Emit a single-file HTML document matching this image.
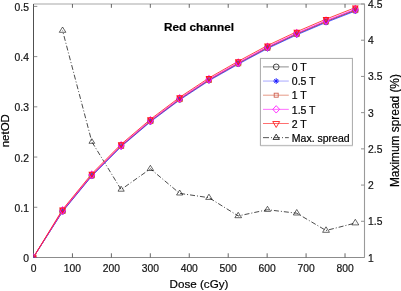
<!DOCTYPE html><html><head><meta charset="utf-8"><style>html,body{margin:0;padding:0;background:#fff;overflow:hidden;}svg{display:block;will-change:transform;}text{font-family:"Liberation Sans",sans-serif;stroke:#000;stroke-width:0.2px;}</style></head><body>
<svg width="401" height="291" viewBox="0 0 401 291">
<rect x="0" y="0" width="401" height="291" fill="#fff"/>
<g>
<line x1="33.5" y1="4.0" x2="365.0" y2="4.0" stroke="#c4c4c4" stroke-width="1.6"/>
<line x1="33.5" y1="257.5" x2="364.5" y2="257.5" stroke="#8c8c8c" stroke-width="1.2"/>
<line x1="364.5" y1="4.0" x2="364.5" y2="257.5" stroke="#9a9a9a" stroke-width="1.1"/>
<line x1="33.5" y1="4.0" x2="33.5" y2="257.5" stroke="#505050" stroke-width="1.0"/>
<line x1="33.50" y1="257.5" x2="33.50" y2="253.3" stroke="#555" stroke-width="0.9"/>
<line x1="33.50" y1="4.0" x2="33.50" y2="7.8" stroke="#555" stroke-width="0.9"/>
<text x="33.50" y="271.80" font-size="10.3" text-anchor="middle" fill="#1a1a1a">0</text>
<line x1="72.44" y1="257.5" x2="72.44" y2="253.3" stroke="#555" stroke-width="0.9"/>
<line x1="72.44" y1="4.0" x2="72.44" y2="7.8" stroke="#555" stroke-width="0.9"/>
<text x="72.44" y="271.80" font-size="10.3" text-anchor="middle" fill="#1a1a1a">100</text>
<line x1="111.38" y1="257.5" x2="111.38" y2="253.3" stroke="#555" stroke-width="0.9"/>
<line x1="111.38" y1="4.0" x2="111.38" y2="7.8" stroke="#555" stroke-width="0.9"/>
<text x="111.38" y="271.80" font-size="10.3" text-anchor="middle" fill="#1a1a1a">200</text>
<line x1="150.32" y1="257.5" x2="150.32" y2="253.3" stroke="#555" stroke-width="0.9"/>
<line x1="150.32" y1="4.0" x2="150.32" y2="7.8" stroke="#555" stroke-width="0.9"/>
<text x="150.32" y="271.80" font-size="10.3" text-anchor="middle" fill="#1a1a1a">300</text>
<line x1="189.26" y1="257.5" x2="189.26" y2="253.3" stroke="#555" stroke-width="0.9"/>
<line x1="189.26" y1="4.0" x2="189.26" y2="7.8" stroke="#555" stroke-width="0.9"/>
<text x="189.26" y="271.80" font-size="10.3" text-anchor="middle" fill="#1a1a1a">400</text>
<line x1="228.21" y1="257.5" x2="228.21" y2="253.3" stroke="#555" stroke-width="0.9"/>
<line x1="228.21" y1="4.0" x2="228.21" y2="7.8" stroke="#555" stroke-width="0.9"/>
<text x="228.21" y="271.80" font-size="10.3" text-anchor="middle" fill="#1a1a1a">500</text>
<line x1="267.15" y1="257.5" x2="267.15" y2="253.3" stroke="#555" stroke-width="0.9"/>
<line x1="267.15" y1="4.0" x2="267.15" y2="7.8" stroke="#555" stroke-width="0.9"/>
<text x="267.15" y="271.80" font-size="10.3" text-anchor="middle" fill="#1a1a1a">600</text>
<line x1="306.09" y1="257.5" x2="306.09" y2="253.3" stroke="#555" stroke-width="0.9"/>
<line x1="306.09" y1="4.0" x2="306.09" y2="7.8" stroke="#555" stroke-width="0.9"/>
<text x="306.09" y="271.80" font-size="10.3" text-anchor="middle" fill="#1a1a1a">700</text>
<line x1="345.03" y1="257.5" x2="345.03" y2="253.3" stroke="#555" stroke-width="0.9"/>
<line x1="345.03" y1="4.0" x2="345.03" y2="7.8" stroke="#555" stroke-width="0.9"/>
<text x="345.03" y="271.80" font-size="10.3" text-anchor="middle" fill="#1a1a1a">800</text>
<line x1="33.5" y1="257.50" x2="37.3" y2="257.50" stroke="#707070" stroke-width="0.8"/>
<text x="28.90" y="262.10" font-size="10.3" text-anchor="end" fill="#1a1a1a">0</text>
<line x1="33.5" y1="207.28" x2="37.3" y2="207.28" stroke="#707070" stroke-width="0.8"/>
<text x="28.90" y="211.88" font-size="10.3" text-anchor="end" fill="#1a1a1a">0.1</text>
<line x1="33.5" y1="157.06" x2="37.3" y2="157.06" stroke="#707070" stroke-width="0.8"/>
<text x="28.90" y="161.66" font-size="10.3" text-anchor="end" fill="#1a1a1a">0.2</text>
<line x1="33.5" y1="106.84" x2="37.3" y2="106.84" stroke="#707070" stroke-width="0.8"/>
<text x="28.90" y="111.44" font-size="10.3" text-anchor="end" fill="#1a1a1a">0.3</text>
<line x1="33.5" y1="56.62" x2="37.3" y2="56.62" stroke="#707070" stroke-width="0.8"/>
<text x="28.90" y="61.22" font-size="10.3" text-anchor="end" fill="#1a1a1a">0.4</text>
<line x1="33.5" y1="6.40" x2="37.3" y2="6.40" stroke="#707070" stroke-width="0.8"/>
<text x="28.90" y="11.00" font-size="10.3" text-anchor="end" fill="#1a1a1a">0.5</text>
<line x1="364.5" y1="257.50" x2="361.0" y2="257.50" stroke="#909090" stroke-width="1"/>
<text x="368.10" y="261.50" font-size="10.3" text-anchor="start" fill="#1a1a1a">1</text>
<line x1="364.5" y1="221.29" x2="361.0" y2="221.29" stroke="#909090" stroke-width="1"/>
<text x="368.10" y="225.29" font-size="10.3" text-anchor="start" fill="#1a1a1a">1.5</text>
<line x1="364.5" y1="185.07" x2="361.0" y2="185.07" stroke="#909090" stroke-width="1"/>
<text x="368.10" y="189.07" font-size="10.3" text-anchor="start" fill="#1a1a1a">2</text>
<line x1="364.5" y1="148.86" x2="361.0" y2="148.86" stroke="#909090" stroke-width="1"/>
<text x="368.10" y="152.86" font-size="10.3" text-anchor="start" fill="#1a1a1a">2.5</text>
<line x1="364.5" y1="112.64" x2="361.0" y2="112.64" stroke="#909090" stroke-width="1"/>
<text x="368.10" y="116.64" font-size="10.3" text-anchor="start" fill="#1a1a1a">3</text>
<line x1="364.5" y1="76.43" x2="361.0" y2="76.43" stroke="#909090" stroke-width="1"/>
<text x="368.10" y="80.43" font-size="10.3" text-anchor="start" fill="#1a1a1a">3.5</text>
<line x1="364.5" y1="40.21" x2="361.0" y2="40.21" stroke="#909090" stroke-width="1"/>
<text x="368.10" y="44.21" font-size="10.3" text-anchor="start" fill="#1a1a1a">4</text>
<line x1="364.5" y1="4.00" x2="361.0" y2="4.00" stroke="#909090" stroke-width="1"/>
<text x="368.10" y="8.00" font-size="10.3" text-anchor="start" fill="#1a1a1a">4.5</text>
<text x="199.0" y="287.8" font-size="11.65" text-anchor="middle" fill="#000">Dose (cGy)</text>
<text transform="translate(9.1,130.7) rotate(-90)" x="0" y="0" font-size="11.5" text-anchor="middle" fill="#000">netOD</text>
<text transform="translate(398.6,130.6) rotate(-90)" x="0" y="0" font-size="11.9" text-anchor="middle" fill="#000">Maximum spread (%)</text>
<text x="199.0" y="30.8" font-size="11.75" font-weight="bold" text-anchor="middle" fill="#000">Red channel</text>
<polyline fill="none" stroke="#2a2a2a" stroke-width="0.85" stroke-dasharray="5 2 1 2" stroke-dashoffset="4.35" points="62.57,30.57 91.84,141.80 121.12,189.57 150.39,168.80 179.66,193.37 208.94,197.70 238.21,215.93 267.48,209.73 296.75,213.20 326.02,230.50 355.30,223.07"/>
<polygon points="62.57,27.00 65.87,32.30 59.27,32.30" fill="none" stroke="#000" stroke-width="0.6" stroke-linejoin="miter"/>
<polygon points="91.84,138.70 94.73,143.30 88.96,143.30" fill="none" stroke="#000" stroke-width="0.6" stroke-linejoin="miter"/>
<polygon points="121.12,186.20 124.24,191.20 118.00,191.20" fill="none" stroke="#000" stroke-width="0.6" stroke-linejoin="miter"/>
<polygon points="150.39,165.30 153.63,170.50 147.15,170.50" fill="none" stroke="#000" stroke-width="0.6" stroke-linejoin="miter"/>
<polygon points="179.66,190.00 182.78,195.00 176.54,195.00" fill="none" stroke="#000" stroke-width="0.6" stroke-linejoin="miter"/>
<polygon points="208.94,194.20 212.18,199.40 205.69,199.40" fill="none" stroke="#000" stroke-width="0.6" stroke-linejoin="miter"/>
<polygon points="238.21,212.30 241.57,217.70 234.85,217.70" fill="none" stroke="#000" stroke-width="0.6" stroke-linejoin="miter"/>
<polygon points="267.48,206.30 270.66,211.40 264.30,211.40" fill="none" stroke="#000" stroke-width="0.6" stroke-linejoin="miter"/>
<polygon points="296.75,209.50 300.17,215.00 293.33,215.00" fill="none" stroke="#000" stroke-width="0.6" stroke-linejoin="miter"/>
<polygon points="326.02,226.80 329.44,232.30 322.60,232.30" fill="none" stroke="#000" stroke-width="0.6" stroke-linejoin="miter"/>
<polygon points="355.30,219.30 358.78,224.90 351.82,224.90" fill="none" stroke="#000" stroke-width="0.6" stroke-linejoin="miter"/>
<clipPath id="ax"><rect x="33.5" y="4.0" width="331.0" height="253.5"/></clipPath><g clip-path="url(#ax)">
<polyline fill="none" stroke="#303030" stroke-width="0.8" stroke-linejoin="round" points="33.30,257.50 62.57,211.13 91.84,175.47 121.12,146.12 150.39,121.27 179.66,99.32 208.94,80.06 238.21,63.51 267.48,47.81 296.75,34.11 326.02,21.65 355.30,10.20"/>
<polyline fill="none" stroke="#3030ff" stroke-width="0.8" stroke-linejoin="round" points="33.30,257.50 62.57,211.64 91.84,176.01 121.12,146.69 150.39,121.87 179.66,99.94 208.94,80.72 238.21,64.19 267.48,48.52 296.75,34.85 326.02,22.42 355.30,11.00"/>
<polyline fill="none" stroke="#e06040" stroke-width="0.8" stroke-linejoin="round" points="33.30,257.50 62.57,210.87 91.84,175.21 121.12,145.84 150.39,120.97 179.66,99.00 208.94,79.74 238.21,63.17 267.48,47.45 296.75,33.73 326.02,21.27 355.30,9.80"/>
<polyline fill="none" stroke="#ff10ff" stroke-width="0.8" stroke-linejoin="round" points="33.30,257.50 62.57,210.49 91.84,174.80 121.12,145.41 150.39,120.52 179.66,98.53 208.94,79.25 238.21,62.66 267.48,46.92 296.75,33.18 326.02,20.69 355.30,9.20"/>
<polyline fill="none" stroke="#ff1818" stroke-width="0.8" stroke-linejoin="round" points="33.30,257.50 62.57,209.47 91.84,173.73 121.12,144.28 150.39,119.33 179.66,97.28 208.94,77.94 238.21,61.29 267.48,45.49 296.75,31.69 326.02,19.15 355.30,7.60"/>
<circle cx="33.30" cy="257.50" r="2.6" fill="none" stroke="#303030" stroke-width="1.05"/>
<circle cx="62.57" cy="211.13" r="2.6" fill="none" stroke="#303030" stroke-width="1.05"/>
<circle cx="91.84" cy="175.47" r="2.6" fill="none" stroke="#303030" stroke-width="1.05"/>
<circle cx="121.12" cy="146.12" r="2.6" fill="none" stroke="#303030" stroke-width="1.05"/>
<circle cx="150.39" cy="121.27" r="2.6" fill="none" stroke="#303030" stroke-width="1.05"/>
<circle cx="179.66" cy="99.32" r="2.6" fill="none" stroke="#303030" stroke-width="1.05"/>
<circle cx="208.94" cy="80.06" r="2.6" fill="none" stroke="#303030" stroke-width="1.05"/>
<circle cx="238.21" cy="63.51" r="2.6" fill="none" stroke="#303030" stroke-width="1.05"/>
<circle cx="267.48" cy="47.81" r="2.6" fill="none" stroke="#303030" stroke-width="1.05"/>
<circle cx="296.75" cy="34.11" r="2.6" fill="none" stroke="#303030" stroke-width="1.05"/>
<circle cx="326.02" cy="21.65" r="2.6" fill="none" stroke="#303030" stroke-width="1.05"/>
<circle cx="355.30" cy="10.20" r="2.6" fill="none" stroke="#303030" stroke-width="1.05"/>
<path d="M30.40,257.50H36.20M33.30,254.60V260.40M31.27,255.47L35.33,259.53M31.27,259.53L35.33,255.47" stroke="#3030ff" stroke-width="1.05" fill="none"/>
<path d="M59.67,211.64H65.47M62.57,208.74V214.54M60.54,209.61L64.60,213.67M60.54,213.67L64.60,209.61" stroke="#3030ff" stroke-width="1.05" fill="none"/>
<path d="M88.94,176.01H94.75M91.84,173.11V178.91M89.81,173.98L93.88,178.04M89.81,178.04L93.88,173.98" stroke="#3030ff" stroke-width="1.05" fill="none"/>
<path d="M118.22,146.69H124.02M121.12,143.79V149.59M119.09,144.66L123.15,148.72M119.09,148.72L123.15,144.66" stroke="#3030ff" stroke-width="1.05" fill="none"/>
<path d="M147.49,121.87H153.29M150.39,118.97V124.77M148.36,119.84L152.42,123.90M148.36,123.90L152.42,119.84" stroke="#3030ff" stroke-width="1.05" fill="none"/>
<path d="M176.76,99.94H182.56M179.66,97.04V102.84M177.63,97.91L181.69,101.97M177.63,101.97L181.69,97.91" stroke="#3030ff" stroke-width="1.05" fill="none"/>
<path d="M206.03,80.72H211.84M208.94,77.82V83.62M206.91,78.69L210.97,82.75M206.91,82.75L210.97,78.69" stroke="#3030ff" stroke-width="1.05" fill="none"/>
<path d="M235.31,64.19H241.11M238.21,61.29V67.09M236.18,62.16L240.24,66.22M236.18,66.22L240.24,62.16" stroke="#3030ff" stroke-width="1.05" fill="none"/>
<path d="M264.58,48.52H270.38M267.48,45.62V51.42M265.45,46.49L269.51,50.55M265.45,50.55L269.51,46.49" stroke="#3030ff" stroke-width="1.05" fill="none"/>
<path d="M293.85,34.85H299.65M296.75,31.95V37.75M294.72,32.82L298.78,36.88M294.72,36.88L298.78,32.82" stroke="#3030ff" stroke-width="1.05" fill="none"/>
<path d="M323.12,22.42H328.92M326.02,19.52V25.32M324.00,20.39L328.05,24.45M324.00,24.45L328.05,20.39" stroke="#3030ff" stroke-width="1.05" fill="none"/>
<path d="M352.40,11.00H358.20M355.30,8.10V13.90M353.27,8.97L357.33,13.03M353.27,13.03L357.33,8.97" stroke="#3030ff" stroke-width="1.05" fill="none"/>
<rect x="30.80" y="255.00" width="5.00" height="5.00" fill="none" stroke="#e06040" stroke-width="1.05"/>
<rect x="60.07" y="208.37" width="5.00" height="5.00" fill="none" stroke="#e06040" stroke-width="1.05"/>
<rect x="89.34" y="172.71" width="5.00" height="5.00" fill="none" stroke="#e06040" stroke-width="1.05"/>
<rect x="118.62" y="143.34" width="5.00" height="5.00" fill="none" stroke="#e06040" stroke-width="1.05"/>
<rect x="147.89" y="118.47" width="5.00" height="5.00" fill="none" stroke="#e06040" stroke-width="1.05"/>
<rect x="177.16" y="96.50" width="5.00" height="5.00" fill="none" stroke="#e06040" stroke-width="1.05"/>
<rect x="206.44" y="77.24" width="5.00" height="5.00" fill="none" stroke="#e06040" stroke-width="1.05"/>
<rect x="235.71" y="60.67" width="5.00" height="5.00" fill="none" stroke="#e06040" stroke-width="1.05"/>
<rect x="264.98" y="44.95" width="5.00" height="5.00" fill="none" stroke="#e06040" stroke-width="1.05"/>
<rect x="294.25" y="31.23" width="5.00" height="5.00" fill="none" stroke="#e06040" stroke-width="1.05"/>
<rect x="323.52" y="18.77" width="5.00" height="5.00" fill="none" stroke="#e06040" stroke-width="1.05"/>
<rect x="352.80" y="7.30" width="5.00" height="5.00" fill="none" stroke="#e06040" stroke-width="1.05"/>
<polygon points="33.30,253.90 36.00,257.50 33.30,261.10 30.60,257.50" fill="none" stroke="#ff10ff" stroke-width="1.05"/>
<polygon points="62.57,206.89 65.27,210.49 62.57,214.09 59.87,210.49" fill="none" stroke="#ff10ff" stroke-width="1.05"/>
<polygon points="91.84,171.20 94.55,174.80 91.84,178.40 89.14,174.80" fill="none" stroke="#ff10ff" stroke-width="1.05"/>
<polygon points="121.12,141.81 123.82,145.41 121.12,149.01 118.42,145.41" fill="none" stroke="#ff10ff" stroke-width="1.05"/>
<polygon points="150.39,116.92 153.09,120.52 150.39,124.12 147.69,120.52" fill="none" stroke="#ff10ff" stroke-width="1.05"/>
<polygon points="179.66,94.93 182.36,98.53 179.66,102.13 176.96,98.53" fill="none" stroke="#ff10ff" stroke-width="1.05"/>
<polygon points="208.94,75.65 211.63,79.25 208.94,82.85 206.24,79.25" fill="none" stroke="#ff10ff" stroke-width="1.05"/>
<polygon points="238.21,59.06 240.91,62.66 238.21,66.26 235.51,62.66" fill="none" stroke="#ff10ff" stroke-width="1.05"/>
<polygon points="267.48,43.32 270.18,46.92 267.48,50.52 264.78,46.92" fill="none" stroke="#ff10ff" stroke-width="1.05"/>
<polygon points="296.75,29.58 299.45,33.18 296.75,36.78 294.05,33.18" fill="none" stroke="#ff10ff" stroke-width="1.05"/>
<polygon points="326.02,17.09 328.72,20.69 326.02,24.29 323.32,20.69" fill="none" stroke="#ff10ff" stroke-width="1.05"/>
<polygon points="355.30,5.60 358.00,9.20 355.30,12.80 352.60,9.20" fill="none" stroke="#ff10ff" stroke-width="1.05"/>
<polygon points="30.80,255.97 35.80,255.97 33.30,260.57" fill="none" stroke="#ff1818" stroke-width="1.05"/>
<polygon points="60.07,207.94 65.07,207.94 62.57,212.54" fill="none" stroke="#ff1818" stroke-width="1.05"/>
<polygon points="89.34,172.19 94.34,172.19 91.84,176.79" fill="none" stroke="#ff1818" stroke-width="1.05"/>
<polygon points="118.62,142.74 123.62,142.74 121.12,147.34" fill="none" stroke="#ff1818" stroke-width="1.05"/>
<polygon points="147.89,117.80 152.89,117.80 150.39,122.40" fill="none" stroke="#ff1818" stroke-width="1.05"/>
<polygon points="177.16,95.75 182.16,95.75 179.66,100.35" fill="none" stroke="#ff1818" stroke-width="1.05"/>
<polygon points="206.44,76.40 211.44,76.40 208.94,81.00" fill="none" stroke="#ff1818" stroke-width="1.05"/>
<polygon points="235.71,59.76 240.71,59.76 238.21,64.36" fill="none" stroke="#ff1818" stroke-width="1.05"/>
<polygon points="264.98,43.96 269.98,43.96 267.48,48.56" fill="none" stroke="#ff1818" stroke-width="1.05"/>
<polygon points="294.25,30.16 299.25,30.16 296.75,34.76" fill="none" stroke="#ff1818" stroke-width="1.05"/>
<polygon points="323.52,17.61 328.52,17.61 326.02,22.21" fill="none" stroke="#ff1818" stroke-width="1.05"/>
<polygon points="352.80,6.07 357.80,6.07 355.30,10.67" fill="none" stroke="#ff1818" stroke-width="1.05"/>
</g>
<rect x="260.4" y="58.4" width="92.0" height="87.0" fill="#fff" stroke="#a8a8a8" stroke-width="1"/>
<line x1="260.4" y1="145.9" x2="352.9" y2="145.9" stroke="#d0d0d0" stroke-width="0.8"/>
<line x1="263" y1="66.90" x2="288.8" y2="66.90" stroke="#707070" stroke-width="0.8"/>
<circle cx="276.20" cy="66.90" r="2.9" fill="none" stroke="#333" stroke-width="0.9"/>
<text x="291.8" y="71.10" font-size="10.5" fill="#000">0 T</text>
<line x1="263" y1="81.05" x2="288.8" y2="81.05" stroke="#a8a8ff" stroke-width="1"/>
<path d="M273.32,81.05H279.07M276.20,78.18V83.93M274.19,79.04L278.21,83.06M274.19,83.06L278.21,79.04" stroke="#1010ff" stroke-width="0.9" fill="none"/>
<text x="291.8" y="85.25" font-size="10.5" fill="#000">0.5 T</text>
<line x1="263" y1="95.20" x2="288.8" y2="95.20" stroke="#e08068" stroke-width="0.8"/>
<rect x="274.20" y="93.20" width="4.00" height="4.00" fill="none" stroke="#d06050" stroke-width="0.9"/>
<text x="291.8" y="99.40" font-size="10.5" fill="#000">1 T</text>
<line x1="263" y1="109.35" x2="288.8" y2="109.35" stroke="#ff70ff" stroke-width="1"/>
<polygon points="276.20,105.65 279.60,109.35 276.20,113.05 272.80,109.35" fill="none" stroke="#ff20ff" stroke-width="0.9"/>
<text x="291.8" y="113.55" font-size="10.5" fill="#000">1.5 T</text>
<line x1="263" y1="123.50" x2="288.8" y2="123.50" stroke="#ff7070" stroke-width="1"/>
<polygon points="272.73,121.52 279.67,121.52 276.20,127.46" fill="none" stroke="#ff2020" stroke-width="0.9"/>
<text x="291.8" y="127.70" font-size="10.5" fill="#000">2 T</text>
<line x1="263" y1="137.65" x2="288.8" y2="137.65" stroke="#555" stroke-width="1" stroke-dasharray="6 2 1 2"/>
<polygon points="276.20,134.12 279.40,139.42 273.00,139.42" fill="none" stroke="#222" stroke-width="0.9"/>
<text x="291.8" y="141.85" font-size="10.5" fill="#000">Max. spread</text>
</g>
</svg></body></html>
